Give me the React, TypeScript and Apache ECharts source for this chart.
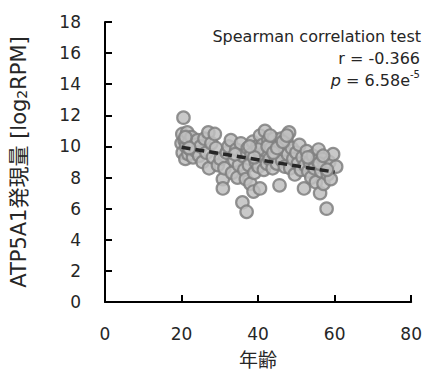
import React, { useEffect, useRef } from "react";
import * as echarts from "echarts";

const xTicks = [0, 20, 40, 60, 80];
const yTicks = [0, 2, 4, 6, 8, 10, 12, 14, 16, 18];
const ages = [
  20.0, 20.2, 20.5, 20.3, 20.8, 21.0, 21.2, 21.5, 21.8, 22.0, 22.3, 22.6, 23.0, 23.4, 23.8, 24.2, 24.6, 25.0, 25.5, 26.0,
  26.5, 27.0, 27.2, 27.8, 28.2, 28.7, 29.0, 29.5, 30.2, 30.8, 30.8, 31.2, 31.8, 32.3, 32.9, 33.2, 33.8, 34.3, 34.6, 35.0,
  35.5, 35.9, 36.0, 36.4, 36.8, 37.0, 37.3, 37.6, 38.0, 38.3, 38.6, 38.8, 39.0, 39.4, 39.8, 40.1, 40.5, 40.5, 40.8, 41.2,
  41.5, 41.8, 42.0, 42.3, 42.7, 43.0, 43.4, 43.8, 44.1, 44.5, 44.9, 45.3, 45.6, 46.0, 46.3, 46.7, 47.0, 47.4, 47.8, 48.1,
  48.4, 48.8, 49.2, 49.6, 50.0, 50.4, 50.8, 51.2, 51.6, 52.0, 52.3, 52.7, 53.1, 53.5, 53.9, 54.3, 54.7, 55.1, 55.5, 55.8,
  56.2, 56.5, 56.8, 57.1, 57.4, 57.9, 58.2, 58.6, 59.0, 59.6, 60.4,
  21.0, 22.0, 40.0, 42.5, 44.0, 45.0, 39.0, 43.2, 37.8, 34.0, 46.5, 47.5, 53.0, 56.0, 57.0, 58.0,
];
const expression = [
  10.2, 10.8, 11.85, 9.6, 10.4, 9.2, 10.0, 10.9, 9.5, 10.3, 9.8, 10.6, 9.3, 10.1, 9.7, 10.4, 9.4, 10.0, 9.0, 10.5,
  9.6, 10.9, 8.6, 10.2, 9.3, 10.8, 9.9, 8.8, 9.2, 7.9, 7.3, 8.6, 9.6, 10.0, 10.4, 8.3, 9.1, 9.8, 8.0, 8.8,
  10.2, 6.4, 9.4, 8.5, 7.9, 5.8, 9.9, 8.8, 7.6, 9.5, 10.3, 7.1, 8.3, 9.0, 10.0, 8.7, 7.3, 10.7, 9.4, 10.1,
  8.5, 11.0, 9.7, 8.9, 10.4, 9.2, 9.9, 8.6, 10.5, 9.4, 8.9, 10.2, 7.5, 10.5, 9.1, 9.8, 8.7, 10.4, 9.5, 10.9,
  8.6, 9.9, 9.2, 8.2, 9.6, 8.9, 10.1, 8.5, 9.3, 7.3, 8.8, 9.7, 8.4, 9.0, 8.0, 9.4, 8.6, 7.7, 9.1, 9.8,
  7.0, 8.4, 9.2, 7.6, 8.8, 6.0, 8.2, 9.0, 7.9, 9.5, 8.7,
  10.6, 9.9, 9.8, 10.0, 9.6, 9.9, 9.3, 10.7, 10.0, 9.5, 10.3, 10.7, 9.3, 8.9, 9.4, 8.5,
];
const trendX = [20, 60];
const trendY = [9.95, 8.35];

const FONT = "'DejaVu Sans', 'Noto Sans CJK JP', sans-serif";
const TEXT = "#262626";

export default function App() {
  const ref = useRef<HTMLDivElement>(null);
  useEffect(() => {
    if (!ref.current) return;
    const chart = echarts.init(ref.current, undefined, { renderer: "svg" });
    chart.setOption({
      animation: false,
      textStyle: { fontFamily: FONT },
      grid: { left: 97, right: 13, top: 22, bottom: 70 },
      xAxis: {
        type: "value",
        min: xTicks[0],
        max: xTicks[xTicks.length - 1],
        interval: 20,
        name: "年齢",
        nameLocation: "middle",
        nameGap: 48,
        nameTextStyle: { fontSize: 19, color: TEXT, fontFamily: FONT },
        axisLine: { show: true, lineStyle: { color: "#000", width: 2 } },
        axisTick: { show: true, inside: true, length: 7, lineStyle: { color: "#000", width: 2 } },
        axisLabel: { fontSize: 17, color: TEXT, margin: 24, fontFamily: FONT },
        splitLine: { show: false },
      },
      yAxis: {
        type: "value",
        min: yTicks[0],
        max: yTicks[yTicks.length - 1],
        interval: 2,
        name: "{a|ATP5A1発現量 [log}{s|2}{a|RPM]}",
        nameLocation: "middle",
        nameGap: 76,
        nameTextStyle: {
          color: TEXT,
          fontFamily: FONT,
          rich: {
            a: { fontSize: 21, color: TEXT, fontFamily: FONT, lineHeight: 28, verticalAlign: "bottom" },
            s: { fontSize: 14, color: TEXT, fontFamily: FONT, lineHeight: 28, verticalAlign: "bottom" },
          },
        },
        axisLine: { show: true, lineStyle: { color: "#000", width: 2 } },
        axisTick: { show: true, inside: true, length: 7, lineStyle: { color: "#000", width: 2 } },
        axisLabel: { fontSize: 17, color: TEXT, margin: 24, fontFamily: FONT },
        splitLine: { show: false },
      },
      graphic: [
        {
          type: "text",
          x: 421,
          y: 36,
          style: {
            text: "Spearman correlation test",
            fontSize: 16,
            fill: TEXT,
            fontFamily: FONT,
            align: "right",
            verticalAlign: "middle",
          },
        },
        {
          type: "text",
          x: 420,
          y: 58,
          style: {
            text: "r = -0.366",
            fontSize: 16,
            fill: TEXT,
            fontFamily: FONT,
            align: "right",
            verticalAlign: "middle",
          },
        },
        {
          type: "text",
          x: 410,
          y: 80,
          style: {
            text: "{i|p}{n| = 6.58e}",
            fill: TEXT,
            fontFamily: FONT,
            align: "right",
            verticalAlign: "middle",
            rich: {
              i: { fontSize: 16, fontStyle: "italic", fill: TEXT, fontFamily: FONT },
              n: { fontSize: 16, fill: TEXT, fontFamily: FONT },
            },
          },
        },
        {
          type: "text",
          x: 410,
          y: 74,
          style: {
            text: "-5",
            fontSize: 10,
            fill: TEXT,
            fontFamily: FONT,
            align: "left",
            verticalAlign: "middle",
          },
        },
      ],
      series: [
        {
          type: "scatter",
          data: ages.map((a, i) => [a, expression[i]]),
          symbol: "circle",
          symbolSize: 12.5,
          itemStyle: { color: "#bfbfbf", opacity: 0.85, borderColor: "#7f7f7f", borderWidth: 2.2 },
          z: 2,
        },
        {
          type: "line",
          data: trendX.map((x, i) => [x, trendY[i]]),
          showSymbol: false,
          symbol: "none",
          lineStyle: { color: "#262626", width: 3.5, type: [9, 5] },
          z: 3,
        },
      ],
    });
    return () => chart.dispose();
  }, []);
  return (
    <div
      ref={ref}
      style={{ position: "absolute", left: 0, top: 0, width: 425, height: 374 }}
    />
  );
}
